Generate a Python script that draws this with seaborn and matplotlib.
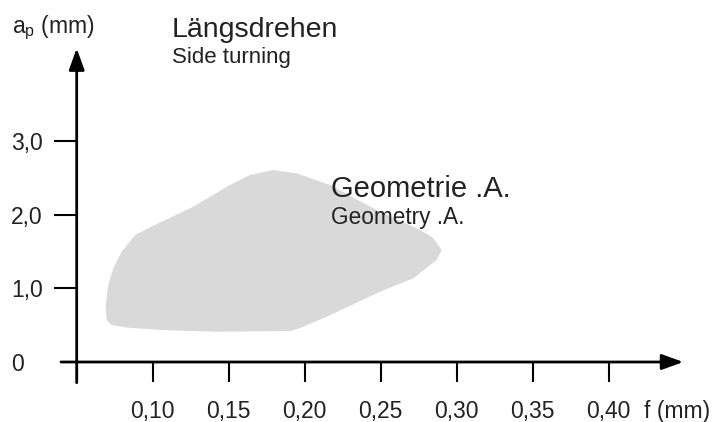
import numpy as np
import pandas as pd
import matplotlib.pyplot as plt
import seaborn as sns

# feed / depth-of-cut window (outline)
feed_mm = [0.0697, 0.0691, 0.0708, 0.0741, 0.0796, 0.0884, 0.1015, 0.1267, 0.1509,
           0.1640, 0.1793, 0.1947, 0.2166, 0.2474, 0.2759, 0.2846, 0.2901, 0.2868,
           0.2715, 0.2495, 0.2145, 0.1969, 0.1903, 0.1410, 0.1059, 0.0839, 0.0730]
depth_mm = [0.570, 0.773, 1.045, 1.272, 1.497, 1.723, 1.859, 2.107, 2.402,
            2.537, 2.605, 2.560, 2.402, 2.062, 1.791, 1.682, 1.520, 1.384,
            1.136, 0.954, 0.615, 0.461, 0.421, 0.411, 0.434, 0.465, 0.502]

x_ticks = [0.05, 0.10, 0.15, 0.20, 0.25, 0.30, 0.35, 0.40]
x_labels = ["", "0,10", "0,15", "0,20", "0,25", "0,30", "0,35", "0,40"]
y_ticks = [0, 1, 2, 3]
y_labels = ["0", "1,0", "2,0", "3,0"]

window = pd.DataFrame({"f": feed_mm, "ap": depth_mm})

sns.set_theme(style="white")
plt.rcParams["font.family"] = ["Liberation Sans", "DejaVu Sans"]
plt.rcParams["mathtext.fontset"] = "custom"
plt.rcParams["mathtext.rm"] = "Liberation Sans"

W, H = 726, 422
fig = plt.figure(figsize=(W / 100, H / 100), dpi=100)
ax = fig.add_axes([0, 0, 1, 1])
ax.set_xlim(-0.00046, 0.4772)
ax.set_ylim(-0.814, 4.912)

ax.fill(window["f"], window["ap"], color="#d9d9d9", lw=0, zorder=1)

# axes with arrow heads
for s in ["top", "right"]:
    ax.spines[s].set_visible(False)
ax.spines["bottom"].set_position(("data", 0))
ax.spines["left"].set_position(("data", 0.05))
ax.spines["bottom"].set_color("none")
ax.spines["left"].set_color("none")
arrow = dict(arrowstyle="-|>,head_length=1.3,head_width=0.47", mutation_scale=10,
             color="black", lw=2, shrinkA=0, shrinkB=0)
ax.annotate("", xy=(0.4491, 0), xytext=(0.0397, 0), arrowprops=arrow, zorder=3)
ax.annotate("", xy=(0.05, 4.256), xytext=(0.05, -0.281), arrowprops=arrow, zorder=3)

txt = "#222222"
ax.set_xticks(x_ticks, x_labels)
ax.set_yticks(y_ticks, y_labels)
ax.tick_params(axis="x", bottom=True, direction="out", length=14.4, width=1.5,
               color="black", pad=13, labelsize=16.5, labelcolor=txt)
ax.tick_params(axis="y", left=True, direction="out", length=16.3, width=1.5,
               color="black", pad=31, labelsize=16.5, labelcolor=txt)
for lab in ax.get_yticklabels():
    lab.set_horizontalalignment("left")
ax.yaxis.get_major_ticks()[0].tick1line.set_visible(False)

def px_text(x, y, s, size):
    fig.text(x / W, 1 - y / H, s, fontsize=size, color=txt, va="baseline", ha="left")

px_text(12, 33, r"a$_\mathregular{p}$ (mm)", 16.5)
px_text(644, 418, "f (mm)", 16.5)
px_text(172, 37, "Längsdrehen", 20.5)
px_text(172, 63, "Side turning", 16)
px_text(331, 197, "Geometrie .A.", 21)
px_text(331, 224, "Geometry .A.", 16.3)

plt.savefig("out.png", dpi=100)
